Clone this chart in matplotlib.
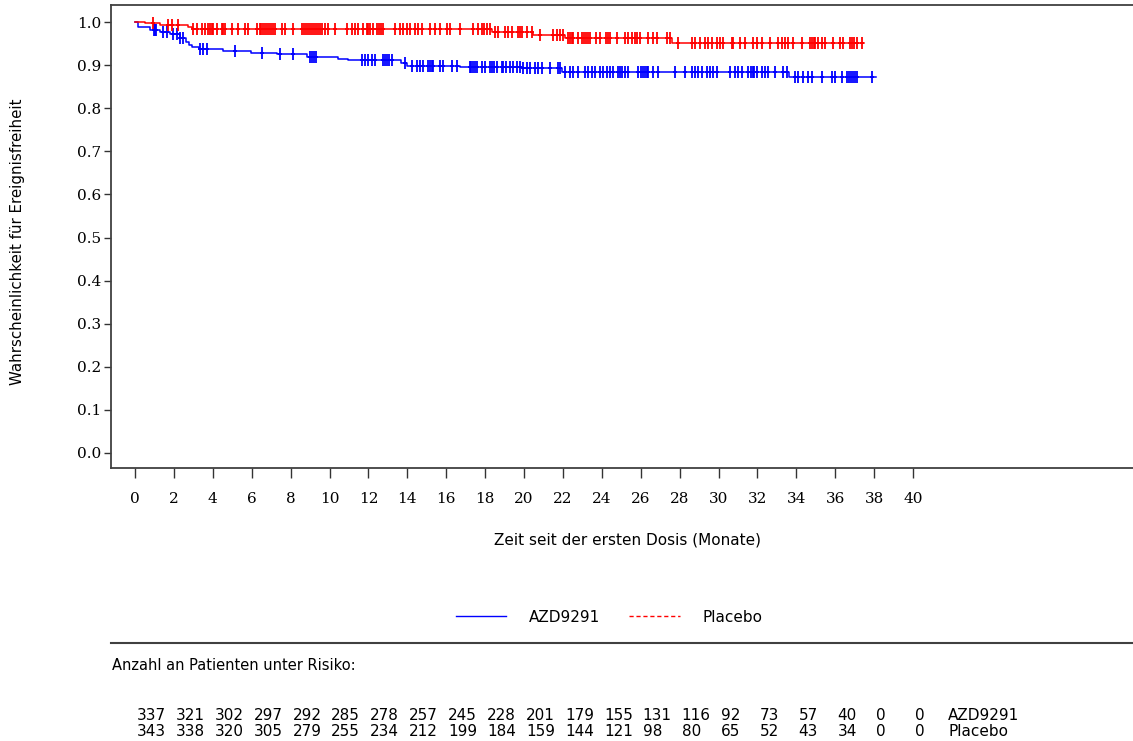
import numpy as np
import matplotlib.pyplot as plt
from matplotlib.lines import Line2D
from matplotlib.path import Path

# Kaplan-Meier Stufen (Zeitpunkt des Ereignisses, Überlebenswahrscheinlichkeit danach)
azd_event_t = [0.15, 0.77, 1.29, 1.8, 2.3, 2.6, 2.8, 2.95, 3.3, 4.5, 5.95, 7.3, 8.85,
               10.45, 10.97, 13.7, 13.97, 16.7, 19.9, 21.94, 33.6]
azd_surv = [0.989, 0.981, 0.977, 0.971, 0.963, 0.954, 0.947, 0.941, 0.937, 0.933, 0.929,
            0.925, 0.919, 0.915, 0.911, 0.904, 0.899, 0.895, 0.893, 0.884, 0.872]
azd_end = 38.1

pla_event_t = [0.5, 1.3, 2.7, 2.95, 18.35, 20.45, 22.1, 27.6]
pla_surv = [0.997, 0.993, 0.989, 0.984, 0.977, 0.970, 0.962, 0.952]
pla_end = 37.5

# zensierte Beobachtungen
azd_cens = [1.0, 1.05, 1.1, 1.45, 1.63, 1.97, 2.14, 2.31, 2.48, 3.34, 3.51, 3.69, 5.14, 6.51,
            7.46, 8.14, 9.0, 9.1, 9.2, 9.3, 11.65, 11.83, 12.0, 12.17, 12.34, 12.77, 12.85,
            12.95, 13.05, 13.2, 13.88, 14.22, 14.48, 14.65, 14.82, 15.08, 15.15, 15.25, 15.34,
            15.68, 15.85, 16.28, 16.54, 17.22, 17.3, 17.4, 17.5, 17.57, 17.82, 18.0, 18.25,
            18.35, 18.45, 18.6, 18.85, 18.94, 19.1, 19.28, 19.45, 19.62, 19.8, 19.97, 20.14,
            20.31, 20.57, 20.74, 20.91, 21.34, 21.76, 21.85, 22.1, 22.36, 22.54, 22.79, 23.14,
            23.31, 23.48, 23.65, 23.9, 24.07, 24.25, 24.42, 24.6, 24.85, 24.95, 25.05, 25.2,
            25.36, 25.88, 26.0, 26.1, 26.2, 26.3, 26.4, 26.65, 26.9, 27.76, 28.28, 28.62,
            28.79, 28.96, 29.14, 29.4, 29.56, 29.73, 29.9, 30.6, 30.85, 31.02, 31.19, 31.53,
            31.65, 31.75, 31.85, 31.96, 32.22, 32.4, 32.56, 32.9, 33.33, 33.5, 33.93, 34.1,
            34.36, 34.62, 34.79, 35.3, 35.82, 35.99, 36.33, 36.6, 36.7, 36.8, 36.9, 37.0,
            37.1, 37.88]
pla_cens = [0.94, 1.71, 1.89, 2.23, 3.0, 3.17, 3.43, 3.6, 3.75, 3.85, 3.95, 4.0, 4.2, 4.46,
            4.55, 4.63, 4.97, 5.31, 5.66, 5.81, 6.26, 6.43, 6.5, 6.6, 6.7, 6.8, 6.9, 7.0, 7.1,
            7.2, 7.54, 7.71, 8.14, 8.6, 8.7, 8.8, 8.9, 9.0, 9.1, 9.2, 9.3, 9.4, 9.5, 9.6, 9.77,
            9.94, 10.28, 10.88, 11.14, 11.31, 11.48, 11.74, 11.91, 12.0, 12.1, 12.25, 12.43,
            12.55, 12.65, 12.77, 13.37, 13.62, 13.79, 13.97, 14.14, 14.4, 14.57, 14.74, 15.17,
            15.42, 15.68, 16.03, 16.2, 16.71, 17.39, 17.65, 17.82, 17.95, 18.1, 18.25, 18.5,
            18.68, 19.02, 19.19, 19.37, 19.7, 19.8, 19.88, 20.14, 20.4, 20.82, 21.5, 21.68,
            21.85, 22.0, 22.26, 22.35, 22.45, 22.52, 22.8, 22.97, 23.1, 23.2, 23.3, 23.4, 23.7,
            23.9, 24.2, 24.3, 24.4, 24.77, 25.2, 25.37, 25.54, 25.71, 25.8, 25.96, 26.4, 26.65,
            26.82, 27.34, 27.5, 27.93, 28.62, 28.79, 29.05, 29.31, 29.48, 29.65, 29.9, 30.08,
            30.25, 30.68, 30.76, 31.1, 31.36, 31.79, 31.96, 32.22, 32.65, 33.07, 33.25, 33.42,
            33.59, 33.85, 34.28, 34.7, 34.8, 34.9, 34.96, 35.13, 35.3, 35.48, 35.9, 36.25,
            36.42, 36.76, 36.85, 36.95, 37.1, 37.36]

# Patienten unter Risiko
risk_months = list(range(0, 42, 2))
azd_risk = [337, 321, 302, 297, 292, 285, 278, 257, 245, 228, 201, 179, 155, 131, 116, 92,
            73, 57, 40, 0, 0]
pla_risk = [343, 338, 320, 305, 279, 255, 234, 212, 199, 184, 159, 144, 121, 98, 80, 65,
            52, 43, 34, 0, 0]

W, H = 1133, 741
BLUE = "#0000ff"
RED = "#ff0000"
SERIF = "DejaVu Serif"
SANS = "DejaVu Sans"

# schmales Kreuz als Zensierungsmarke
cens_marker = Path([(-0.4, 0), (0.4, 0), (0, -1), (0, 1)],
                   [Path.MOVETO, Path.LINETO, Path.MOVETO, Path.LINETO])


def km_curve(event_t, surv, end):
    x = np.array([0.0] + list(event_t) + [end])
    y = np.array([1.0] + list(surv) + [surv[-1]])
    return x, y


def km_at(event_t, surv, times):
    t = np.asarray(event_t)
    s = np.array([1.0] + list(surv))
    idx = np.searchsorted(t, times, side="right")
    return s[idx]


fig = plt.figure(figsize=(W / 100, H / 100), dpi=100)
ax = fig.add_axes([111 / W, 1 - 468 / H, 1 - 111 / W, (468 - 5) / H])

for ev, sv, end, cens, col in [(azd_event_t, azd_surv, azd_end, azd_cens, BLUE),
                               (pla_event_t, pla_surv, pla_end, pla_cens, RED)]:
    x, y = km_curve(ev, sv, end)
    ax.plot(x, y, drawstyle="steps-post", color=col, lw=1.1)
    ax.plot(cens, km_at(ev, sv, cens), linestyle="none", marker=cens_marker,
            markersize=8.5, markeredgewidth=1.3, color=col)

ax.set_xlim(-24 / 19.45, (W - 135) / 19.45)
ax.set_ylim(-15 / 431, 1 + 17 / 431)
ax.set_xticks(risk_months)
ax.set_yticks(np.arange(0, 1.01, 0.1))
ax.set_yticklabels([f"{v:.1f}" for v in np.arange(0, 1.01, 0.1)])
ax.tick_params(axis="x", direction="out", length=7, width=1, pad=10, colors="#333333",
               labelcolor="black", labelsize=11)
ax.tick_params(axis="y", direction="out", length=5, width=1, pad=2, colors="#333333",
               labelcolor="black", labelsize=11)
for lab in ax.get_xticklabels() + ax.get_yticklabels():
    lab.set_fontfamily(SERIF)
for side in ["left", "bottom", "top"]:
    ax.spines[side].set_color("#404040")
    ax.spines[side].set_linewidth(1.3)
ax.spines["right"].set_visible(False)

fig.text(18 / W, 1 - 242 / H, "Wahrscheinlichkeit für Ereignisfreiheit", rotation=90,
         ha="center", va="center", fontsize=10.8, family=SANS)
fig.text(628 / W, 1 - 540 / H, "Zeit seit der ersten Dosis (Monate)", ha="center",
         va="center", fontsize=11, family=SANS)

handles = [Line2D([], [], color=BLUE, lw=1.0),
           Line2D([], [], color=RED, lw=1.0, linestyle=(0, (3, 2)))]
fig.legend(handles, ["AZD9291", "Placebo"], loc="center", bbox_to_anchor=(609 / W, 1 - 617 / H),
           ncol=2, frameon=False, handlelength=3.3, handletextpad=1.5, columnspacing=1.9,
           prop={"family": SANS, "size": 11})

fig.add_artist(Line2D([111 / W, 1.0], [1 - 643 / H, 1 - 643 / H], color="#404040", lw=1.5))
fig.text(112 / W, 1 - 665 / H, "Anzahl an Patienten unter Risiko:", ha="left", va="center",
         fontsize=10.5, family=SANS)

x0, dx = 136.7 / W, 38.93 / W
for row_y, counts, name in [(715, azd_risk, "AZD9291"), (731, pla_risk, "Placebo")]:
    for i, n in enumerate(counts):
        fig.text(x0 + i * dx, 1 - row_y / H, str(n), ha="left", va="center", fontsize=11,
                 family=SANS)
    fig.text(948 / W, 1 - row_y / H, name, ha="left", va="center", fontsize=11, family=SANS)

fig.savefig("out.png", dpi=100)
